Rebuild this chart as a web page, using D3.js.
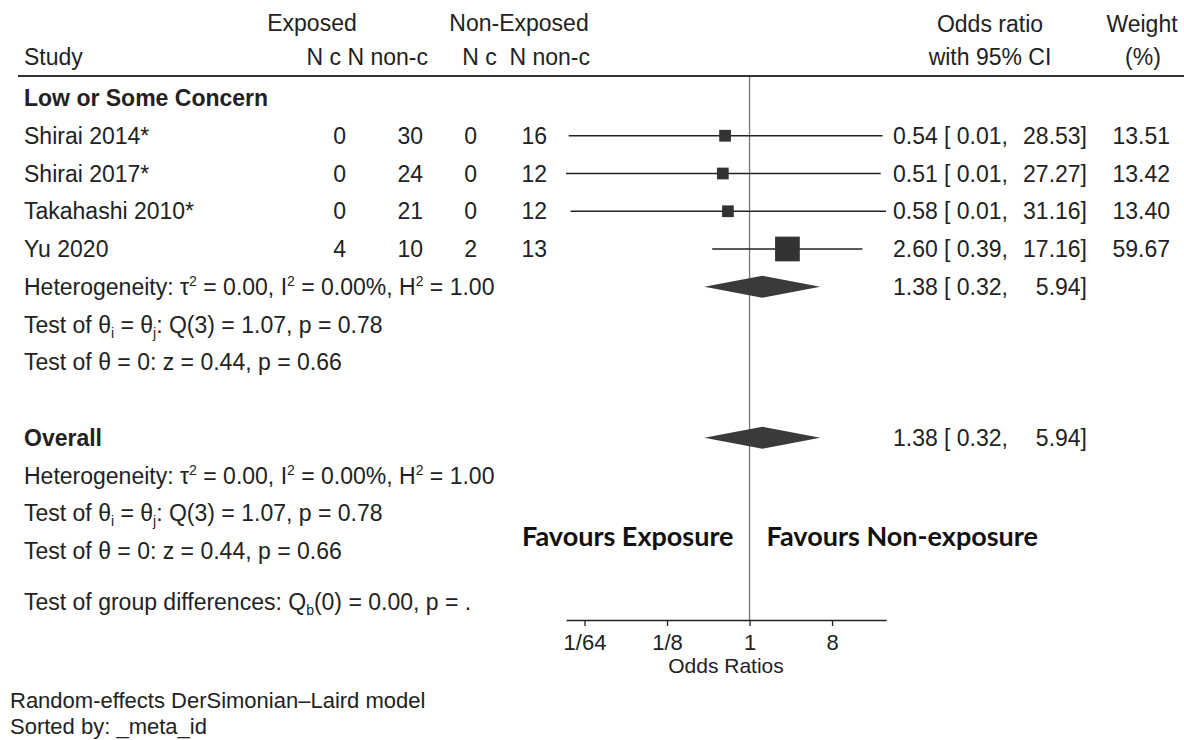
<!DOCTYPE html>
<html>
<head>
<meta charset="utf-8">
<script src="https://cdn.jsdelivr.net/npm/d3@7"></script>
<style>
  body { margin: 0; background: #fff; }
  svg text { font-family: "Liberation Sans", Arial, sans-serif; fill: #222; }
  .fav { font-family: Lato, "Open Sans", sans-serif; font-weight: 700; fill: #111; }
</style>
</head>
<body>
<div id="chart"></div>
<script>
var width = 1184,
    height = 740;

// study data
var studies  = ["Shirai 2014*", "Shirai 2017*", "Takahashi 2010*", "Yu 2020"];
var expC     = [0, 0, 0, 4];
var expNonC  = [30, 24, 21, 10];
var nonC     = [0, 0, 0, 2];
var nonNonC  = [16, 12, 12, 13];
var oddsR    = [0.54, 0.51, 0.58, 2.60];
var lowerCI  = [0.0105, 0.0098, 0.0110, 0.39];
var upperCI  = [28.53, 27.27, 31.16, 17.16];
var weights  = [13.51, 13.42, 13.40, 59.67];

// pooled estimate (subgroup and overall are identical)
var pooledOR = [1.38, 1.38];
var pooledLo = [0.32, 0.32];
var pooledHi = [5.94, 5.94];

var tickValues = [1/64, 1/8, 1, 8];
var tickLabels = ["1/64", "1/8", "1", "8"];

var groupName = "Low or Some Concern";
var hetStat = [["Heterogeneity: τ", ""], ["2", "sup"], [" = 0.00, I", ""], ["2", "sup"],
               [" = 0.00%, H", ""], ["2", "sup"], [" = 1.00", ""]];
var qStat = [["Test of θ", ""], ["i", "sub"], [" = θ", ""], ["j", "sub"], [": Q(3) = 1.07, p = 0.78", ""]];
var zStat = [["Test of θ = 0: z = 0.44, p = 0.66", ""]];
var groupDiff = [["Test of group differences: Q", ""], ["b", "sub"], ["(0) = 0.00, p = .", ""]];

var svg = d3.select("#chart")
  .append("svg")
  .attr("width", width)
  .attr("height", height);

var fs = 23;

// row positions
var rowY = d3.scaleLinear().domain([0, 1]).range([98, 135.75]);

// x scale for odds ratios
var x = d3.scaleLog().base(2)
  .domain([d3.min(lowerCI), d3.max(upperCI)])
  .range([566, 886]);

function addText(parent, segs, xx, yy, anchor) {
  var t = parent.append("text")
    .attr("x", xx)
    .attr("y", yy + 8)
    .attr("font-size", fs)
    .attr("text-anchor", anchor || "start");
  var shift = 0;
  segs.forEach(function(s) {
    var want = s[1] === "sup" ? -9 : (s[1] === "sub" ? 5 : 0);
    var sp = t.append("tspan").text(s[0]).attr("dy", want - shift);
    if (s[1]) sp.attr("font-size", 14);
    shift = want;
  });
  return t;
}

// header
var head = svg.append("g");
head.append("text").attr("x", 312).attr("y", 23).attr("dy", "0.35em").attr("font-size", fs)
  .attr("text-anchor", "middle").text("Exposed");
head.append("text").attr("x", 519).attr("y", 23).attr("dy", "0.35em").attr("font-size", fs)
  .attr("text-anchor", "middle").text("Non-Exposed");
head.append("text").attr("x", 24).attr("y", 57).attr("dy", "0.35em").attr("font-size", fs)
  .text("Study");
head.append("text").attr("x", 428).attr("y", 57).attr("dy", "0.35em").attr("font-size", fs)
  .attr("text-anchor", "end").text("N c N non-c");
head.append("text").attr("x", 590).attr("y", 57).attr("dy", "0.35em").attr("font-size", fs)
  .attr("text-anchor", "end").attr("xml:space", "preserve").text("N c  N non-c");
head.append("text").attr("x", 990).attr("y", 24).attr("dy", "0.35em").attr("font-size", fs)
  .attr("text-anchor", "middle").text("Odds ratio");
head.append("text").attr("x", 990).attr("y", 57).attr("dy", "0.35em").attr("font-size", fs)
  .attr("text-anchor", "middle").text("with 95% CI");
head.append("text").attr("x", 1142).attr("y", 24).attr("dy", "0.35em").attr("font-size", fs)
  .attr("text-anchor", "middle").text("Weight");
head.append("text").attr("x", 1143).attr("y", 57).attr("dy", "0.35em").attr("font-size", fs)
  .attr("text-anchor", "middle").text("(%)");
head.append("line")
  .attr("x1", 18).attr("x2", width)
  .attr("y1", 76).attr("y2", 76)
  .attr("stroke", "#333").attr("stroke-width", 2);

// null line
svg.append("line")
  .attr("x1", x(1)).attr("x2", x(1))
  .attr("y1", 77).attr("y2", 620)
  .attr("stroke", "#777").attr("stroke-width", 1.3);

var g = svg.append("g");

// subgroup label
g.append("text").attr("x", 24).attr("y", rowY(0)).attr("dy", "0.35em")
  .attr("font-size", fs).attr("font-weight", "bold").text(groupName);

// study rows
var rows = g.selectAll("g.study")
  .data(studies)
  .enter()
  .append("g")
  .attr("class", "study")
  .attr("transform", function(d, i) { return "translate(0," + rowY(i + 1) + ")"; });

rows.append("text").attr("x", 24).attr("dy", "0.35em").attr("font-size", fs)
  .text(function(d) { return d; });

var numCols = [[expC, 346], [expNonC, 423], [nonC, 477], [nonNonC, 547]];
numCols.forEach(function(c) {
  rows.append("text")
    .attr("x", c[1]).attr("dy", "0.35em").attr("font-size", fs)
    .attr("text-anchor", "end")
    .text(function(d, i) { return c[0][i]; });
});

rows.append("line")
  .attr("x1", function(d, i) { return x(lowerCI[i]); })
  .attr("x2", function(d, i) { return x(upperCI[i]); })
  .attr("stroke", "#222").attr("stroke-width", 1.3);

rows.append("rect")
  .attr("x", function(d, i) { return x(oddsR[i]) - 1.6 * Math.sqrt(weights[i]); })
  .attr("y", function(d, i) { return -1.6 * Math.sqrt(weights[i]); })
  .attr("width", function(d, i) { return 3.2 * Math.sqrt(weights[i]); })
  .attr("height", function(d, i) { return 3.2 * Math.sqrt(weights[i]); })
  .attr("fill", "#333");

function ciText(sel, est, lo, hi) {
  sel.append("text").attr("x", 893).attr("dy", "0.35em").attr("font-size", fs)
    .text(est.toFixed(2));
  sel.append("text").attr("x", 944).attr("dy", "0.35em").attr("font-size", fs)
    .attr("xml:space", "preserve").text("[ " + lo.toFixed(2) + ",");
  sel.append("text").attr("x", 1087).attr("dy", "0.35em").attr("font-size", fs)
    .attr("text-anchor", "end").text(hi.toFixed(2) + "]");
}

rows.each(function(d, i) {
  var r = d3.select(this);
  ciText(r, oddsR[i], lowerCI[i], upperCI[i]);
  r.append("text").attr("x", 1170).attr("dy", "0.35em").attr("font-size", fs)
    .attr("text-anchor", "end").text(weights[i].toFixed(2));
});

// pooled rows: subgroup (row 5) and overall (row 9)
var pooledRows = [5, 9];
pooledRows.forEach(function(r, k) {
  var pg = g.append("g").attr("transform", "translate(0," + rowY(r) + ")");
  var h = 11;
  pg.append("path")
    .attr("d", "M" + x(pooledLo[k]) + ",0L" + x(pooledOR[k]) + "," + (-h) +
               "L" + x(pooledHi[k]) + ",0L" + x(pooledOR[k]) + "," + h + "Z")
    .attr("fill", "#3a3a3a");
  ciText(pg, pooledOR[k], pooledLo[k], pooledHi[k]);
});

// statistics
addText(g, hetStat, 24, rowY(5));
addText(g, qStat, 24, rowY(6));
addText(g, zStat, 24, rowY(7));
g.append("text").attr("x", 24).attr("y", rowY(9)).attr("dy", "0.35em")
  .attr("font-size", fs).attr("font-weight", "bold").text("Overall");
addText(g, hetStat, 24, rowY(10));
addText(g, qStat, 24, rowY(11));
addText(g, zStat, 24, rowY(12));
addText(g, groupDiff, 24, rowY(13.35));

// favours labels
svg.append("text").attr("class", "fav")
  .attr("x", x(1) - 16).attr("y", 537).attr("dy", "0.35em")
  .attr("font-size", 27).attr("text-anchor", "end").text("Favours Exposure");
svg.append("text").attr("class", "fav")
  .attr("x", x(1) + 17).attr("y", 537).attr("dy", "0.35em")
  .attr("font-size", 27).text("Favours Non-exposure");

// axis
var axis = d3.axisBottom(x)
  .tickValues(tickValues)
  .tickFormat(function(d, i) { return tickLabels[i]; })
  .tickSize(6)
  .tickSizeOuter(0)
  .tickPadding(8);

var ax = svg.append("g")
  .attr("transform", "translate(0,620)")
  .call(axis);
ax.select(".domain").attr("stroke", "#222").attr("stroke-width", 1.5);
ax.selectAll(".tick line").attr("stroke", "#222").attr("stroke-width", 1.3);
ax.selectAll(".tick text")
  .attr("font-size", 22)
  .attr("font-family", "Liberation Sans, Arial, sans-serif")
  .attr("fill", "#222");

svg.append("text")
  .attr("x", (x.range()[0] + x.range()[1]) / 2).attr("y", 666).attr("dy", "0.35em")
  .attr("font-size", 21).attr("text-anchor", "middle").text("Odds Ratios");

// notes
svg.append("text").attr("x", 10).attr("y", 700).attr("dy", "0.35em")
  .attr("font-size", 22).text("Random-effects DerSimonian–Laird model");
svg.append("text").attr("x", 10).attr("y", 726).attr("dy", "0.35em")
  .attr("font-size", 22).text("Sorted by: _meta_id");
</script>
</body>
</html>
